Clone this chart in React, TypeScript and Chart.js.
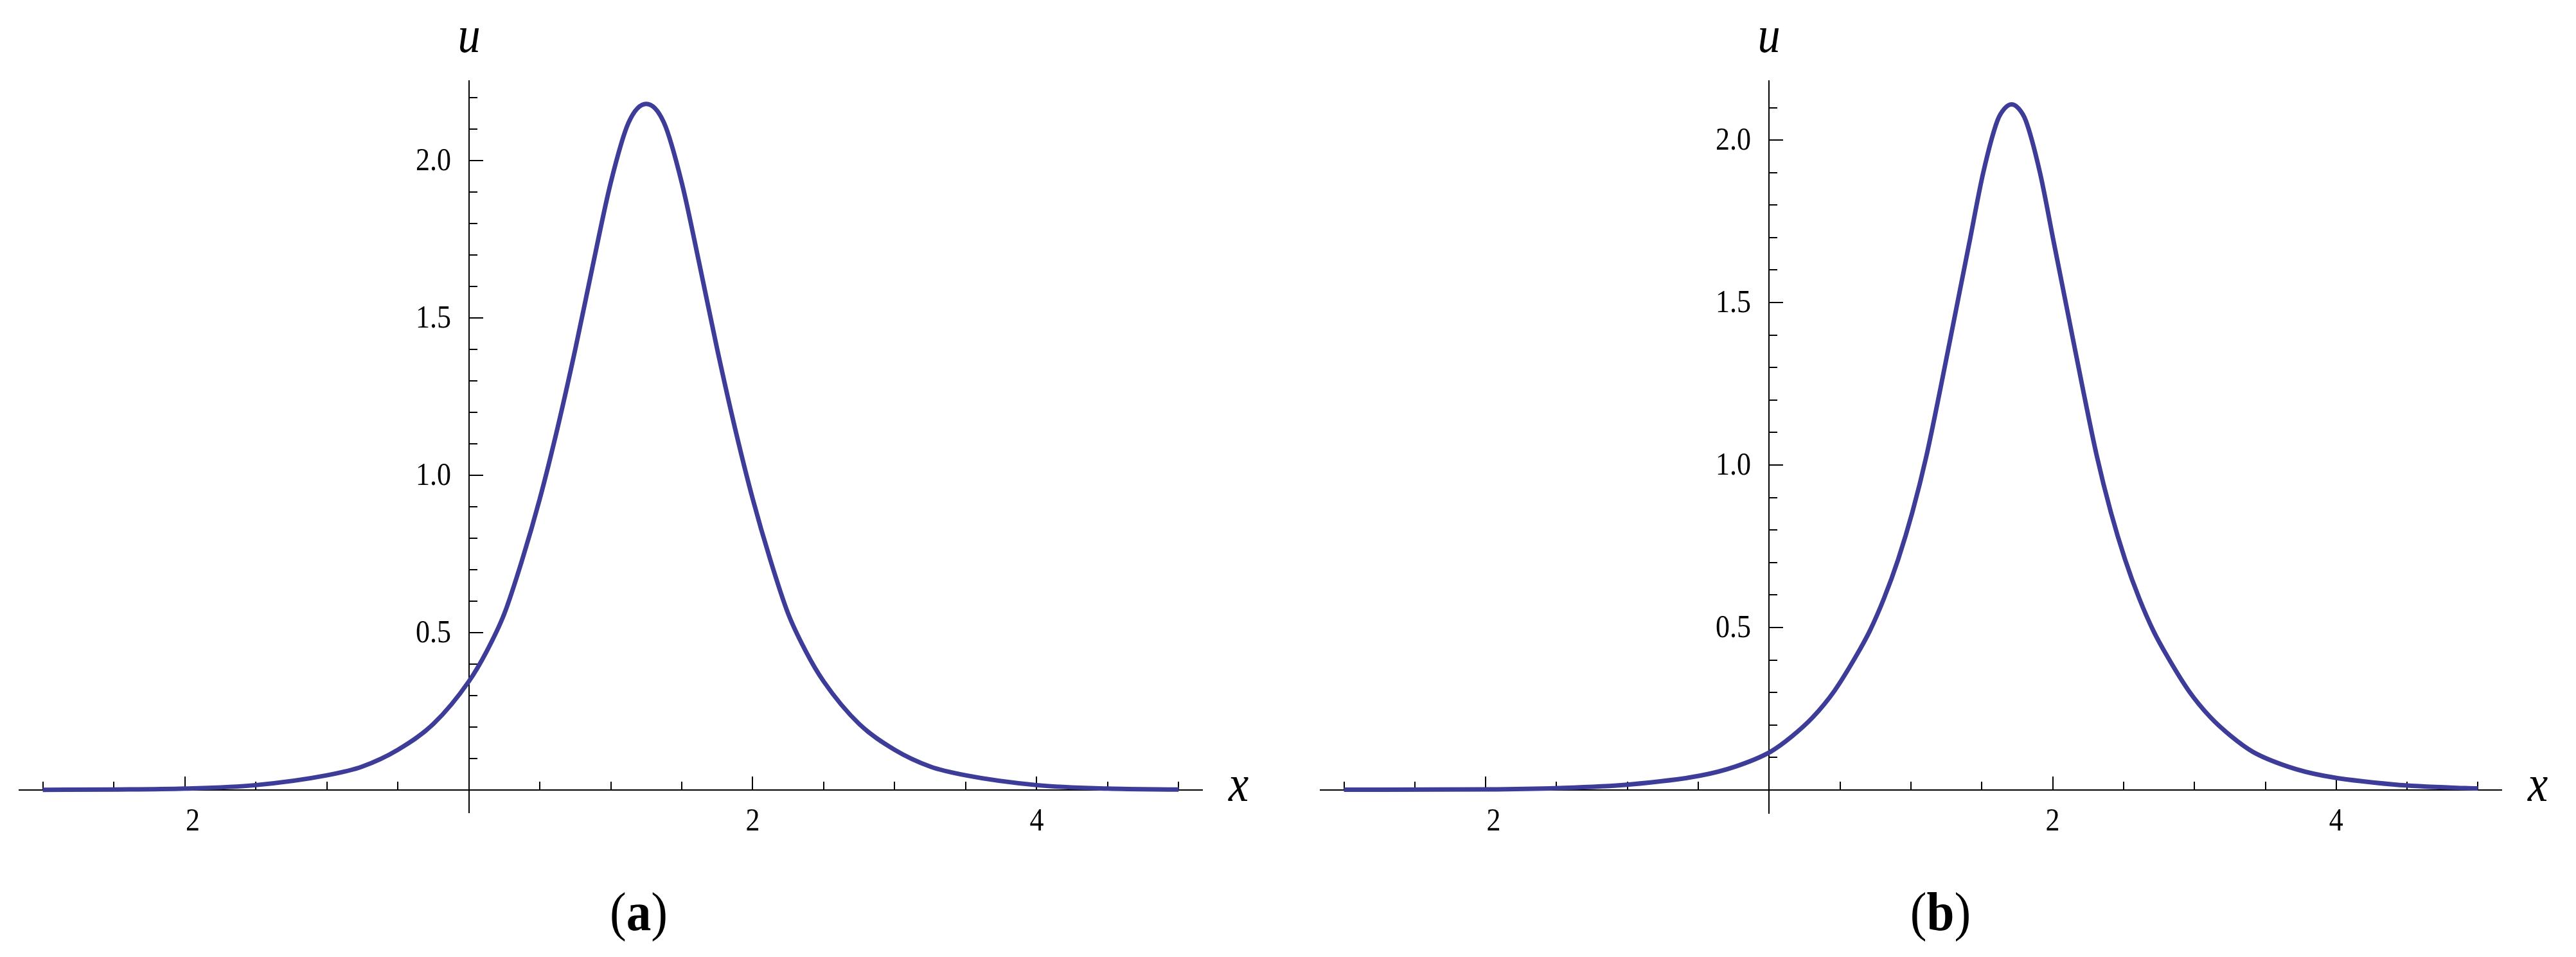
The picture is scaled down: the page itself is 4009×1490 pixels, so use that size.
import React, { useEffect, useRef } from "react";
import { Chart, registerables } from "chart.js";

Chart.register(...registerables);

// ---------------- data ----------------
// Panel (a)
const xA = [-3, -2.5, -2, -1.5, -1, -0.75, -0.5, -0.25, 0, 0.125, 0.25, 0.375, 0.5, 0.625, 0.75, 0.875, 1.0, 1.125, 1.25, 1.375, 1.5, 1.625, 1.75, 1.875, 2.0, 2.125, 2.25, 2.375, 2.5, 2.75, 3.0, 3.25, 3.5, 4.0, 4.5, 5.0];
const uA = [0.001, 0.002, 0.005, 0.016, 0.047, 0.075, 0.128, 0.21, 0.345, 0.44, 0.56, 0.73, 0.925, 1.15, 1.40, 1.67, 1.93, 2.12, 2.18, 2.12, 1.93, 1.67, 1.40, 1.15, 0.925, 0.73, 0.56, 0.44, 0.345, 0.21, 0.128, 0.075, 0.047, 0.016, 0.005, 0.002];

// Panel (b)
const xB = [-3, -1.99, -1.49, -0.99, -0.49, -0.24, 0.01, 0.16, 0.31, 0.46, 0.61, 0.71, 0.81, 0.91, 1.01, 1.11, 1.21, 1.31, 1.41, 1.51, 1.61, 1.66, 1.71, 1.76, 1.81, 1.91, 2.01, 2.11, 2.21, 2.31, 2.41, 2.51, 2.61, 2.71, 2.81, 2.96, 3.11, 3.26, 3.41, 3.66, 3.91, 4.41, 4.91, 5.0];
const uB = [0.001, 0.002, 0.006, 0.017, 0.044, 0.072, 0.118, 0.165, 0.225, 0.305, 0.41, 0.49, 0.59, 0.71, 0.855, 1.03, 1.24, 1.46, 1.68, 1.90, 2.06, 2.097, 2.11, 2.097, 2.06, 1.90, 1.68, 1.46, 1.24, 1.03, 0.855, 0.71, 0.59, 0.49, 0.41, 0.305, 0.225, 0.165, 0.118, 0.072, 0.044, 0.017, 0.006, 0.005];

// ticks
const xMajorTicks = [-2, 2, 4];
const xTickLabels = ["2", "2", "4"];
const xMinorTicks = [-3, -2.5, -1.5, -1, -0.5, 0.5, 1, 1.5, 2.5, 3, 3.5, 4.5, 5];
const yMajorTicks = [0.5, 1.0, 1.5, 2.0];
const yTickLabels = ["0.5", "1.0", "1.5", "2.0"];
const yMinorTicksA = [0.1, 0.2, 0.3, 0.4, 0.6, 0.7, 0.8, 0.9, 1.1, 1.2, 1.3, 1.4, 1.6, 1.7, 1.8, 1.9, 2.1, 2.2];
const yMinorTicksB = [0.1, 0.2, 0.3, 0.4, 0.6, 0.7, 0.8, 0.9, 1.1, 1.2, 1.3, 1.4, 1.6, 1.7, 1.8, 1.9, 2.1];

const xAxisLabel = "x";
const yAxisLabel = "u";
const captionLetters = ["a", "b"];

// ---------------- styling ----------------
const SERIF = "'Liberation Serif', 'Times New Roman', Times, serif";
const LINE_COLOR = "#3d3d99";
const SQUEEZE = 0.88;

function drawText(ctx: CanvasRenderingContext2D, text: string, x: number, y: number, font: string, align: CanvasTextAlign, sx: number) {
  ctx.save();
  ctx.font = font;
  ctx.textAlign = align;
  ctx.textBaseline = "alphabetic";
  ctx.translate(x, y);
  ctx.scale(sx, 1);
  ctx.fillText(text, 0, 0);
  ctx.restore();
}

function textWidth(ctx: CanvasRenderingContext2D, text: string, font: string, sx: number) {
  ctx.save();
  ctx.font = font;
  const w = ctx.measureText(text).width * sx;
  ctx.restore();
  return w;
}

function makeAxesPlugin(yMinor: number[], caption: string, captionX: number) {
  return {
    id: "mmaAxes",
    beforeDatasetsDraw(chart: any) {
      const { ctx, chartArea, scales } = chart;
      const xs = scales.x;
      const ys = scales.y;
      const x0 = Math.round(xs.getPixelForValue(0));
      const y0 = Math.round(ys.getPixelForValue(0));
      ctx.save();
      ctx.strokeStyle = "#000";
      ctx.fillStyle = "#000";
      ctx.lineWidth = 2;
      const seg = (ax: number, ay: number, bx: number, by: number) => {
        ctx.beginPath();
        ctx.moveTo(ax, ay);
        ctx.lineTo(bx, by);
        ctx.stroke();
      };
      // axes
      seg(chartArea.left, y0, chartArea.right, y0);
      seg(x0, chartArea.top, x0, chartArea.bottom);
      // x ticks (inward = upward)
      xMinorTicks.forEach((v) => {
        const p = Math.round(xs.getPixelForValue(v));
        seg(p, y0, p, y0 - 13);
      });
      xMajorTicks.forEach((v) => {
        const p = Math.round(xs.getPixelForValue(v));
        seg(p, y0, p, y0 - 21);
      });
      // y ticks (inward = rightward)
      yMinor.forEach((v) => {
        const p = Math.round(ys.getPixelForValue(v));
        seg(x0, p, x0 + 13, p);
      });
      yMajorTicks.forEach((v) => {
        const p = Math.round(ys.getPixelForValue(v));
        seg(x0, p, x0 + 22, p);
      });
      // tick labels
      const tickFont = `50px ${SERIF}`;
      xMajorTicks.forEach((v, i) => {
        const p = xs.getPixelForValue(v);
        let cx = p;
        if (v < 0) {
          // label is typeset as "−2" with an invisible minus sign
          cx = p + textWidth(ctx, "\u2212", tickFont, SQUEEZE) / 2;
        }
        drawText(ctx, xTickLabels[i], cx, y0 + 63, tickFont, "center", SQUEEZE);
      });
      yMajorTicks.forEach((v, i) => {
        const p = ys.getPixelForValue(v);
        drawText(ctx, yTickLabels[i], x0 - 28, p + 15, tickFont, "right", SQUEEZE);
      });
      // axis labels
      const axFont = `italic 80px ${SERIF}`;
      drawText(ctx, yAxisLabel, x0, chartArea.top - 44, axFont, "center", SQUEEZE);
      drawText(ctx, xAxisLabel, chartArea.right + 40, y0 + 17, axFont, "left", SQUEEZE);
      // caption "(a)" with bold letter
      const regFont = `84px ${SERIF}`;
      const boldFont = `bold 84px ${SERIF}`;
      const sx = 0.92;
      const wp1 = textWidth(ctx, "(", regFont, sx);
      const wl = textWidth(ctx, caption, boldFont, sx);
      const wp2 = textWidth(ctx, ")", regFont, sx);
      let cx = captionX - (wp1 + wl + wp2) / 2;
      const base = 1448;
      drawText(ctx, "(", cx, base, regFont, "left", sx);
      cx += wp1;
      drawText(ctx, caption, cx, base, boldFont, "left", sx);
      cx += wl;
      drawText(ctx, ")", cx, base, regFont, "left", sx);
      ctx.restore();
    },
  };
}

type PanelProps = {
  left: number;
  width: number;
  xs: number[];
  us: number[];
  yMin: number;
  yMax: number;
  pad: { left: number; right: number; top: number; bottom: number };
  yMinor: number[];
  caption: string;
  captionX: number;
};

function Panel(props: PanelProps) {
  const ref = useRef<HTMLCanvasElement | null>(null);
  useEffect(() => {
    if (!ref.current) return;
    const points = props.xs.map((x, i) => ({ x, y: props.us[i] }));
    const chart = new Chart(ref.current, {
      type: "line",
      data: {
        datasets: [
          {
            data: points,
            borderColor: LINE_COLOR,
            borderWidth: 7,
            pointRadius: 0,
            fill: false,
            cubicInterpolationMode: "monotone",
          } as any,
        ],
      },
      options: {
        animation: false,
        responsive: false,
        events: [],
        layout: { padding: props.pad },
        plugins: { legend: { display: false }, tooltip: { enabled: false } },
        scales: {
          x: { type: "linear", min: -3.17, max: 5.17, display: false },
          y: { type: "linear", min: props.yMin, max: props.yMax, display: false },
        },
      },
      plugins: [makeAxesPlugin(props.yMinor, props.caption, props.captionX)],
    } as any);
    return () => chart.destroy();
  }, []);
  return (
    <canvas
      ref={ref}
      width={props.width}
      height={1490}
      style={{ position: "absolute", left: props.left, top: 0, width: props.width, height: 1490 }}
    />
  );
}

export default function App() {
  return (
    <div style={{ position: "absolute", left: 0, top: 0, width: 4009, height: 1490, background: "#fff", overflow: "hidden" }}>
      <Panel
        left={0}
        width={2000}
        xs={xA}
        us={uA}
        yMin={-0.073}
        yMax={2.255}
        pad={{ left: 29, right: 128, top: 125, bottom: 224 }}
        yMinor={yMinorTicksA}
        caption={captionLetters[0]}
        captionX={994}
      />
      <Panel
        left={2000}
        width={2009}
        xs={xB}
        us={uB}
        yMin={-0.073}
        yMax={2.184}
        pad={{ left: 54, right: 115, top: 125, bottom: 223 }}
        yMinor={yMinorTicksB}
        caption={captionLetters[1]}
        captionX={1020}
      />
    </div>
  );
}
